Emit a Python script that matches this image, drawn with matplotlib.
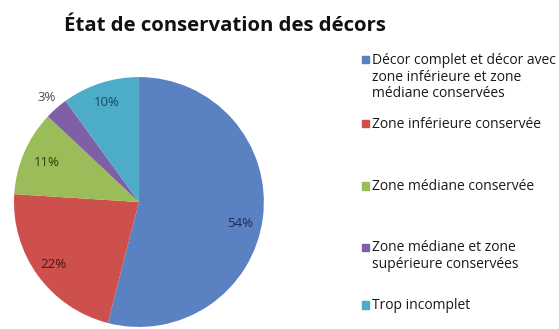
import matplotlib.pyplot as plt
from matplotlib.patches import Rectangle
import numpy as np

plt.rcParams['font.family'] = ['Open Sans', 'DejaVu Sans']

categories = [
    "Décor complet et décor avec\nzone inférieure et zone\nmédiane conservées",
    "Zone inférieure conservée",
    "Zone médiane conservée",
    "Zone médiane et zone\nsupérieure conservées",
    "Trop incomplet",
]
percentages = [54, 22, 11, 3, 10]

colors = ["#5A81C2", "#CD504C", "#9BBD59", "#7F5FA6", "#4DADC9"]
label_colors = ["#1E2B55", "#4A1714", "#2C3B10", "#4A4A4A", "#16485A"]
# radial distance of each percentage label (the tiny slice gets its label outside)
label_dist = [0.83, 0.85, 0.80, 1.12, 0.84]
# small angular nudge (degrees) away from the wedge's mid angle
label_turn = [-4.5, 0, 0, 0, 0]
# baseline of the first line of each legend entry, figure fraction
legend_base = [0.8055, 0.611, 0.4225, 0.237, 0.0608]
line_pitch = 0.0507

fig = plt.figure(figsize=(5.59, 3.29), dpi=100)
ax = fig.add_axes([0.025, 0.006, 0.447, 0.76])

wedges, _ = ax.pie(percentages, colors=colors, startangle=90, counterclock=False,
                   wedgeprops=dict(linewidth=0))

for w, pct, d, t, c in zip(wedges, percentages, label_dist, label_turn, label_colors):
    mid = np.deg2rad((w.theta1 + w.theta2) / 2 + t)
    ax.text(d * np.cos(mid), d * np.sin(mid), f"{pct}%", ha='center', va='center',
            fontsize=9.5, color=c)

ax.set_xlim(-1, 1)
ax.set_ylim(-1, 1)
ax.set_aspect('equal')
ax.axis('off')

fig.text(0.403, 0.921, "État de conservation des décors", ha='center', va='center',
         fontsize=14.7, fontweight='bold', color='#111111')

for label, col, base in zip(categories, colors, legend_base):
    fig.patches.append(Rectangle((0.6476, base + 0.0015), 0.0125, 0.0213, color=col,
                                 transform=fig.transFigure, figure=fig))
    for i, line in enumerate(label.split("\n")):
        fig.text(0.6655, base - i * line_pitch, line, ha='left', va='baseline',
                 fontsize=10, color='#1a1a1a')

fig.savefig("out.png", dpi=100)
